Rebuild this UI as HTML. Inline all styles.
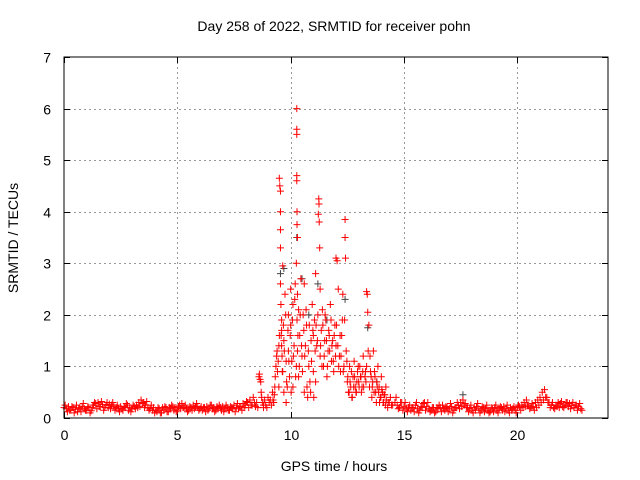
<!DOCTYPE html>
<html><head><meta charset="utf-8">
<style>
body{margin:0;background:#fff;}
svg{display:block;font-family:"Liberation Sans",sans-serif;}
</style></head>
<body>
<svg id="chart" width="640" height="480" viewBox="0 0 640 480">
<text x="334" y="31" font-size="14" text-anchor="middle">Day 258 of 2022, SRMTID for receiver pohn</text>
<g id="grid"></g>
<g id="ticks"></g>
<g id="marks"></g>
<rect x="64" y="57" width="544" height="361" fill="none" stroke="#000" stroke-width="1"/>
<text x="334" y="471" font-size="14" text-anchor="middle">GPS time / hours</text>
<text x="18" y="238" font-size="14" text-anchor="middle" transform="rotate(-90 18 238)">SRMTID / TECUs</text>
</svg>
<script>
const xTicks=[0,5,10,15,20];
const yTicks=[0,1,2,3,4,5,6,7];
const baseStep=0.1;
const base1Start=0;
const base1Values=[0.2,0.18,0.22,0.15,0.2,0.17,0.12,0.2,0.22,0.18,0.15,0.2,0.14,0.25,0.28,0.3,0.22,0.26,0.2,0.3,0.27,0.25,0.22,0.2,0.18,0.22,0.15,0.2,0.25,0.2,0.18,0.22,0.25,0.3,0.35,0.3,0.25,0.2,0.18,0.15,0.1,0.12,0.18,0.1,0.15,0.2,0.12,0.18,0.22,0.2,0.15,0.25,0.28,0.2,0.18,0.15,0.2,0.25,0.22,0.2,0.18,0.15,0.2,0.22,0.18,0.25,0.2,0.15,0.18,0.2,0.22,0.18,0.2,0.15,0.2,0.25,0.2,0.18,0.22,0.28,0.25,0.3,0.35,0.25,0.3];
const base1Jitter=[0.25,0.12,0.15,0.22,0.1,0.25,0.18,0.12,0.28,0.15,0.22,0.1,0.2,0.3,0.18,0.22,0.32,0.15,0.25,0.2,0.18,0.3,0.15,0.25,0.12,0.18,0.22,0.28,0.15,0.12,0.25,0.18,0.2,0.22,0.28,0.2,0.32,0.15,0.25,0.2,0.15,0.2,0.1,0.2,0.22,0.12,0.2,0.25,0.15,0.12,0.22,0.18,0.2,0.25,0.12,0.22,0.15,0.18,0.28,0.15,0.22,0.2,0.12,0.15,0.25,0.18,0.12,0.22,0.25,0.15,0.12,0.25,0.15,0.22,0.18,0.12,0.28,0.22,0.15,0.2,0.32,0.2,0.25,0.4,0.22];
const base2Start=14.6;
const base2Values=[0.3,0.25,0.2,0.3,0.22,0.18,0.2,0.15,0.2,0.25,0.18,0.15,0.2,0.3,0.22,0.18,0.15,0.2,0.12,0.18,0.2,0.25,0.15,0.2,0.18,0.22,0.15,0.2,0.25,0.3,0.35,0.28,0.2,0.18,0.15,0.2,0.22,0.18,0.15,0.2,0.18,0.15,0.12,0.18,0.2,0.15,0.18,0.2,0.22,0.18,0.15,0.2,0.18,0.15,0.2,0.22,0.25,0.3,0.35,0.25,0.2,0.22,0.3,0.35,0.4,0.5,0.55,0.4,0.3,0.25,0.2,0.25,0.3,0.28,0.22,0.25,0.3,0.28,0.25,0.2,0.25,0.22,0.18];
const base2Jitter=[0.4,0.18,0.3,0.15,0.3,0.12,0.25,0.2,0.12,0.3,0.1,0.22,0.28,0.15,0.3,0.12,0.2,0.1,0.2,0.25,0.12,0.18,0.22,0.12,0.28,0.1,0.2,0.3,0.18,0.22,0.25,0.2,0.12,0.25,0.1,0.15,0.28,0.1,0.22,0.12,0.25,0.1,0.2,0.12,0.25,0.1,0.22,0.15,0.12,0.25,0.1,0.15,0.22,0.1,0.25,0.15,0.2,0.22,0.25,0.18,0.28,0.15,0.2,0.25,0.3,0.35,0.4,0.3,0.2,0.3,0.18,0.22,0.2,0.32,0.2,0.3,0.22,0.18,0.3,0.25,0.15,0.28,0.15];
const burstHours=[8.5,8.6,8.65,8.7,8.75,8.8,8.9,9.0,9.1,9.2,9.25,9.3,9.35,9.4,9.45,9.5,9.5,9.52,9.55,9.55,9.55,9.55,9.55,9.57,9.6,9.6,9.6,9.62,9.65,9.65,9.7,9.7,9.75,9.8,9.8,9.85,9.9,9.9,9.95,10.0,10.0,10.05,10.1,10.1,10.15,10.2,10.25,10.25,10.27,10.27,10.27,10.27,10.27,10.28,10.28,10.28,10.3,10.3,10.3,10.35,10.35,10.4,10.45,10.5,10.55,10.6,10.6,10.65,10.7,10.75,10.8,10.85,10.9,10.95,11.0,11.0,11.05,11.1,11.1,11.15,11.2,11.22,11.24,11.25,11.26,11.28,11.3,11.3,11.35,11.4,11.45,11.5,11.55,11.6,11.65,11.7,11.75,11.8,11.85,11.9,11.95,12.0,12.0,12.05,12.1,12.15,12.2,12.25,12.3,12.35,12.38,12.4,12.4,12.42,12.45,12.5,12.55,12.6,12.65,12.7,12.75,12.8,12.85,12.9,12.95,13.0,13.05,13.1,13.15,13.2,13.3,13.32,13.35,13.35,13.38,13.4,13.45,13.5,13.55,13.6,13.65,13.7,13.75,13.8,13.85,13.9,13.95,14.0,14.05,14.1,14.15,14.2,14.3,14.4,14.5];
const burstValues=[0.3,0.8,0.75,0.5,0.3,0.2,0.25,0.4,0.35,0.5,0.3,0.6,1.0,1.3,1.1,1.6,4.65,4.5,4.4,4.0,3.65,3.3,2.6,2.2,1.9,1.7,1.4,1.2,2.95,0.9,1.5,0.5,2.4,1.1,0.3,0.6,1.3,2.0,0.8,1.8,2.5,1.1,2.2,0.6,1.4,2.6,1.0,3.0,6.0,5.6,5.5,4.7,4.6,4.0,3.75,1.9,3.5,2.4,1.3,2.1,0.8,1.6,2.7,1.2,2.0,2.6,0.5,1.4,1.8,0.4,1.0,0.7,1.5,2.2,1.6,0.9,1.9,2.8,0.7,1.4,2.0,3.95,4.25,4.15,3.8,3.3,1.2,2.5,1.7,2.1,1.0,1.5,1.9,0.8,1.3,1.6,2.2,1.1,1.5,0.9,1.8,3.1,1.4,3.05,2.5,1.2,0.9,1.6,2.4,1.0,1.9,3.85,3.5,3.1,1.3,0.7,0.5,1.0,0.6,0.4,0.8,1.1,0.6,0.5,0.9,0.7,1.0,0.8,0.6,1.2,0.9,0.7,1.0,2.45,2.4,2.05,1.8,1.2,0.8,0.6,1.3,0.9,0.5,0.7,1.0,0.6,0.4,0.8,0.5,0.3,0.45,0.6,0.3,0.4,0.25,0.3,0.2];
const fillHours=[8.55,8.62,8.68,8.72,8.8,8.85,8.95,9.05,9.15,9.22,9.28,9.32,9.38,9.42,9.48,9.48,9.58,9.63,9.68,9.72,9.78,9.82,9.88,9.92,9.98,10.02,10.08,10.12,10.18,10.22,10.32,10.38,10.42,10.48,10.52,10.58,10.62,10.68,10.72,10.78,10.82,10.88,10.92,10.98,11.02,11.08,11.12,11.18,11.32,11.38,11.42,11.48,11.52,11.58,11.62,11.68,11.72,11.78,11.82,11.88,11.92,11.98,12.02,12.08,12.12,12.18,12.22,12.28,12.32,12.48,12.52,12.58,12.62,12.68,12.72,12.78,12.82,12.88,12.92,12.98,13.02,13.08,13.12,13.18,13.22,13.28,13.42,13.48,13.52,13.58,13.62,13.68,13.72,13.78,13.82,13.88,13.92,13.98,14.02,14.08,14.12,14.18,14.22,14.28,14.35,14.45];
const fillValues=[0.2,0.85,0.7,0.4,0.25,0.35,0.2,0.3,0.25,0.35,0.45,0.8,1.2,0.9,1.4,0.6,1.6,0.9,1.8,1.3,2.0,0.7,1.7,1.1,1.6,0.5,1.9,1.2,2.3,0.8,1.6,1.0,2.0,1.4,0.9,1.7,1.2,2.1,0.6,1.3,1.8,0.5,1.1,1.7,0.4,1.3,1.8,1.5,1.4,1.0,1.8,1.2,2.0,1.5,1.0,1.7,1.3,1.9,1.4,1.1,1.6,1.2,1.8,1.4,1.0,1.6,1.2,1.9,0.9,1.1,0.8,0.5,0.7,0.9,0.4,0.6,0.8,0.5,0.7,1.0,0.6,0.8,0.5,0.9,0.6,0.8,1.3,0.6,0.9,0.4,0.7,0.5,0.8,0.3,0.6,0.5,0.3,0.4,0.55,0.3,0.45,0.25,0.35,0.2,0.3,0.25];
const greyHours=[9.55,9.7,10.27,10.5,10.8,11.2,11.6,12.4,13.4,17.6,13.8];
const greyValues=[2.8,2.9,3.5,2.7,2.0,2.6,1.9,2.3,1.75,0.45,0.7];

const X=h=>64+h*(544/24);
const Y=v=>418-v*(361/7);
const NS="http://www.w3.org/2000/svg";
const grid=document.getElementById('grid'),ticks=document.getElementById('ticks'),marks=document.getElementById('marks');
function line(g,x1,y1,x2,y2,st,dash){const l=document.createElementNS(NS,'line');l.setAttribute('x1',x1);l.setAttribute('y1',y1);l.setAttribute('x2',x2);l.setAttribute('y2',y2);l.setAttribute('stroke',st);if(dash)l.setAttribute('stroke-dasharray',dash);g.appendChild(l);return l;}
function txt(s,x,y,anchor){const t=document.createElementNS(NS,'text');t.setAttribute('x',x);t.setAttribute('y',y);t.setAttribute('font-size','14');t.setAttribute('text-anchor',anchor);t.textContent=s;ticks.appendChild(t);return t;}
xTicks.forEach(v=>{const x=Math.round(X(v))+0.5;
 if(v>0){const gl=line(grid,x,57,x,418,'#999','2,3');}
 line(ticks,x,418,x,412,'#000');line(ticks,x,57,x,63,'#000');
 const t=txt(String(v),x,440,'middle');
 
 });
yTicks.forEach(v=>{const y=Math.round(Y(v))+0.5;
 if(v>0&&v<7){const gl=line(grid,64,y,608,y,'#999','2,3');}
 line(ticks,64,y,70,y,'#000');line(ticks,608,y,602,y,'#000');
 const t=txt(String(v),51,y+5,'end');
 
 });
function plus(h,v,color,name){const x=X(h),y=Y(v);const p=document.createElementNS(NS,'path');
 p.setAttribute('d',`M${x-3.5} ${y}H${x+3.5}M${x} ${y-3.5}V${y+3.5}`);p.setAttribute('stroke',color);p.setAttribute('stroke-width','1');p.setAttribute('fill','none');
 
 
 marks.appendChild(p);}
greyHours.forEach((h,i)=>plus(h,greyValues[i],'#444','grey-point'));
base1Values.forEach((v,i)=>plus(base1Start+i*baseStep,v,'#f00','red-point'));
base1Jitter.forEach((v,i)=>plus(base1Start+i*baseStep+0.05,v,'#f00','red-point'));
burstHours.forEach((h,i)=>plus(h,burstValues[i],'#f00','red-point'));
fillHours.forEach((h,i)=>plus(h,fillValues[i],'#f00','red-point'));
base2Values.forEach((v,i)=>plus(base2Start+i*baseStep,v,'#f00','red-point'));
base2Jitter.forEach((v,i)=>plus(base2Start+i*baseStep+0.05,v,'#f00','red-point'));
</script>
</body></html>
